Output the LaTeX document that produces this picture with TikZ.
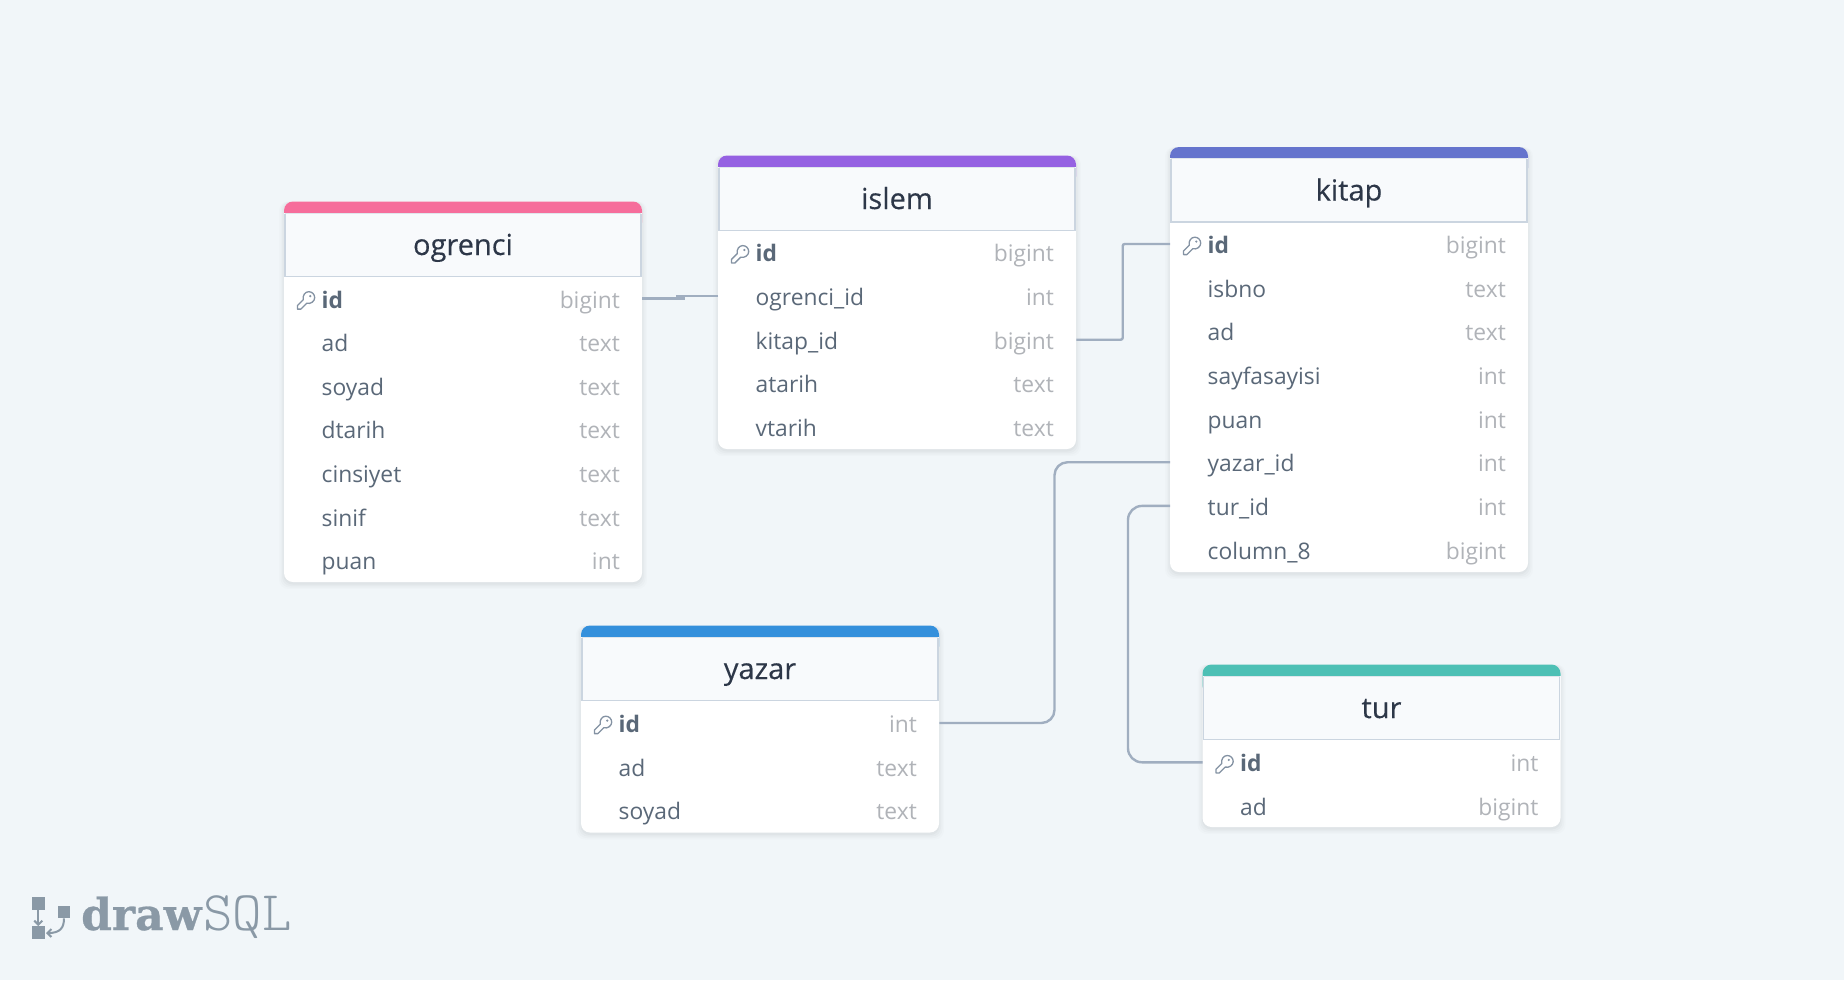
\documentclass[tikz,border=0pt]{standalone}
\usepackage{fontspec}
\setmainfont{Open Sans}
\newfontfamily\titlefont{Open Sans}[FakeBold=0.25]
\newfontfamily\logobold{DejaVu Serif Bold}[FakeBold=0.6]
\newfontfamily\logothin{Latin Modern Mono Light}
\usetikzlibrary{arrows.meta}
\definecolor{canvas}{HTML}{F1F6F9}
\definecolor{linkc}{HTML}{A0AEC0}
\definecolor{headc}{HTML}{F8FAFC}
\definecolor{edgec}{HTML}{CBD5E0}
\definecolor{titlec}{HTML}{2D3748}
\definecolor{colc}{HTML}{5A6878}
\definecolor{typec}{HTML}{B0B3B8}
\definecolor{keyc}{HTML}{8492A3}
\definecolor{logoc}{HTML}{8A99A6}
\definecolor{cpink}{HTML}{F66D9B}
\definecolor{cpurple}{HTML}{9561E2}
\definecolor{cindigo}{HTML}{6574CD}
\definecolor{cblue}{HTML}{3490DC}
\definecolor{cteal}{HTML}{4DC0B5}
\tikzset{
  x=1pt,y=-1pt,
  tabletitle/.style={anchor=base,text=titlec,font=\titlefont\fontsize{29}{34}\selectfont,inner sep=0pt},
  colname/.style={anchor=base west,text=colc,font=\fontsize{22.8}{26}\selectfont,inner sep=0pt},
  colnamekey/.style={anchor=base west,text=colc,font=\fontsize{22.8}{26}\selectfont\bfseries,inner sep=0pt},
  coltype/.style={anchor=base east,text=typec,font=\fontsize{22.8}{26}\selectfont,inner sep=0pt},
  rowbox/.style={minimum width=358pt,minimum height=43pt,inner sep=0pt,anchor=west},
  conn/.style={draw=linkc,line width=2.4pt},
  keyicon/.style={draw=keyc,line width=1.3pt,line join=round,line cap=round},
  logosq/.style={fill=logoc,minimum width=12.5pt,minimum height=12.5pt,inner sep=0pt},
  logoline/.style={draw=logoc,line width=2pt,-{Straight Barb[length=4pt,width=8pt]}},
}
% #1 name, #2 left, #3 top, #4 bottom, #5 colour, #6 title, #7 y of the first row (connector level), #8 rows
\newcommand{\dbtable}[8]{%
  \foreach \k/\o in {6/0.012,4.5/0.016,3/0.02,1.5/0.025}{
    \fill[black,opacity=\o,rounded corners=9pt] (#2-\k+1,#3) rectangle (#2+358+\k-1,#4+\k+1);
  }
  \fill[white,rounded corners=9pt] (#2,#3) rectangle (#2+358,#4);
  \fill[#5,rounded corners=9pt] (#2,#3) rectangle (#2+358,#3+30);
  \fill[headc] (#2,#3+11) rectangle (#2+358,#3+75);
  \draw[edgec,line width=1.6pt] (#2+1,#3+12) -- (#2+1,#3+75) -- (#2+357,#3+75) -- (#2+357,#3+12);
  \draw[edgec!60,line width=1pt] (#2+1,#3+11.5) -- (#2+357,#3+11.5);
  \node[tabletitle] (#1-title) at (#2+179,#3+53.5) {#6};
  \foreach \cname/\ctype [count=\i from 0] in {#8}{
    \pgfmathsetmacro{\ry}{#7+43.65*\i}
    \pgfmathtruncatemacro{\rn}{\i+1}
    \node[rowbox] (#1-\rn) at (#2,\ry) {};
    \ifnum\i=0
      \node[colnamekey] (#1-\rn-name) at (#2+37.5,\ry+9.5) {\cname};
      \begin{scope}[shift={(#2+12.7,\ry-6.8)}]
        \draw[keyicon] (6.6,8) -- (0.8,13.8) -- (0.8,17.4) -- (4.2,17.4) -- (10,11.6)
          .. controls (14,12.6) and (18,9.6) .. (18,6)
          .. controls (18,2.6) and (15.4,0) .. (12,0)
          .. controls (8.6,0) and (5.6,3.6) .. (6.6,8) -- cycle;
        \fill[keyc] (13.6,4.4) circle (1.2pt);
      \end{scope}
    \else
      \node[colname] (#1-\rn-name) at (#2+37.5,\ry+9.5) {\cname};
    \fi
    \node[coltype] (#1-\rn-type) at (#2+358-22,\ry+9.5) {\ctype};
  }
}
\begin{document}
\begin{tikzpicture}
\useasboundingbox[fill=canvas] (0,0) rectangle (1844,980);
\dbtable{ogrenci}{284}{201.5}{582}{cpink}{ogrenci}{298.5}{id/bigint,ad/text,soyad/text,dtarih/text,cinsiyet/text,sinif/text,puan/int}
\dbtable{islem}{718}{155.5}{449}{cpurple}{islem}{252.4}{id/bigint,ogrenci\_id/int,kitap\_id/bigint,atarih/text,vtarih/text}
\dbtable{kitap}{1170}{147}{572}{cindigo}{kitap}{244}{id/bigint,isbno/text,ad/text,sayfasayisi/int,puan/int,yazar\_id/int,tur\_id/int,column\_8/bigint}
\dbtable{yazar}{581}{625.5}{832.5}{cblue}{yazar}{723}{id/int,ad/text,soyad/text}
\dbtable{tur}{1202.5}{664.5}{827}{cteal}{tur}{762.3}{id/int,ad/bigint}
% connectors
\coordinate (bendB) at (1122.7,300);
\coordinate (bendC) at (1054.5,600);
\coordinate (bendD) at (1128,650);
\draw[conn] (ogrenci-1.east) -- ++(43,0);
\draw[conn] (islem-2.west) -- ++(-42,0);
\draw[conn,rounded corners=2pt] (islem-3.east) -| (bendB) |- (kitap-1.west);
\draw[conn,rounded corners=13pt] (yazar-1.east) -| (bendC) |- (kitap-6.west);
\draw[conn,rounded corners=14pt] (tur-1.west) -| (bendD) |- (kitap-7.west);
% logo
\node[logosq] (logoa) at (38.3,903.5) {};
\node[logosq] (logob) at (38.3,932.5) {};
\node[logosq] (logoc) at (64,912) {};
\draw[logoline] (logoa) -- (logob);
\draw[logoline] (logoc.south) .. controls (64,928) and (60,933) .. (46,933);
\node[anchor=base west,inner sep=0pt,text=logoc,font=\logobold\fontsize{44}{44}\selectfont] (logoword) at (81,930) {draw};
\node[anchor=base west,inner sep=0pt,text=logoc,font=\logothin\fontsize{56}{56}\selectfont] (logosql) at (203,930) {SQL};
\end{tikzpicture}
\end{document}
